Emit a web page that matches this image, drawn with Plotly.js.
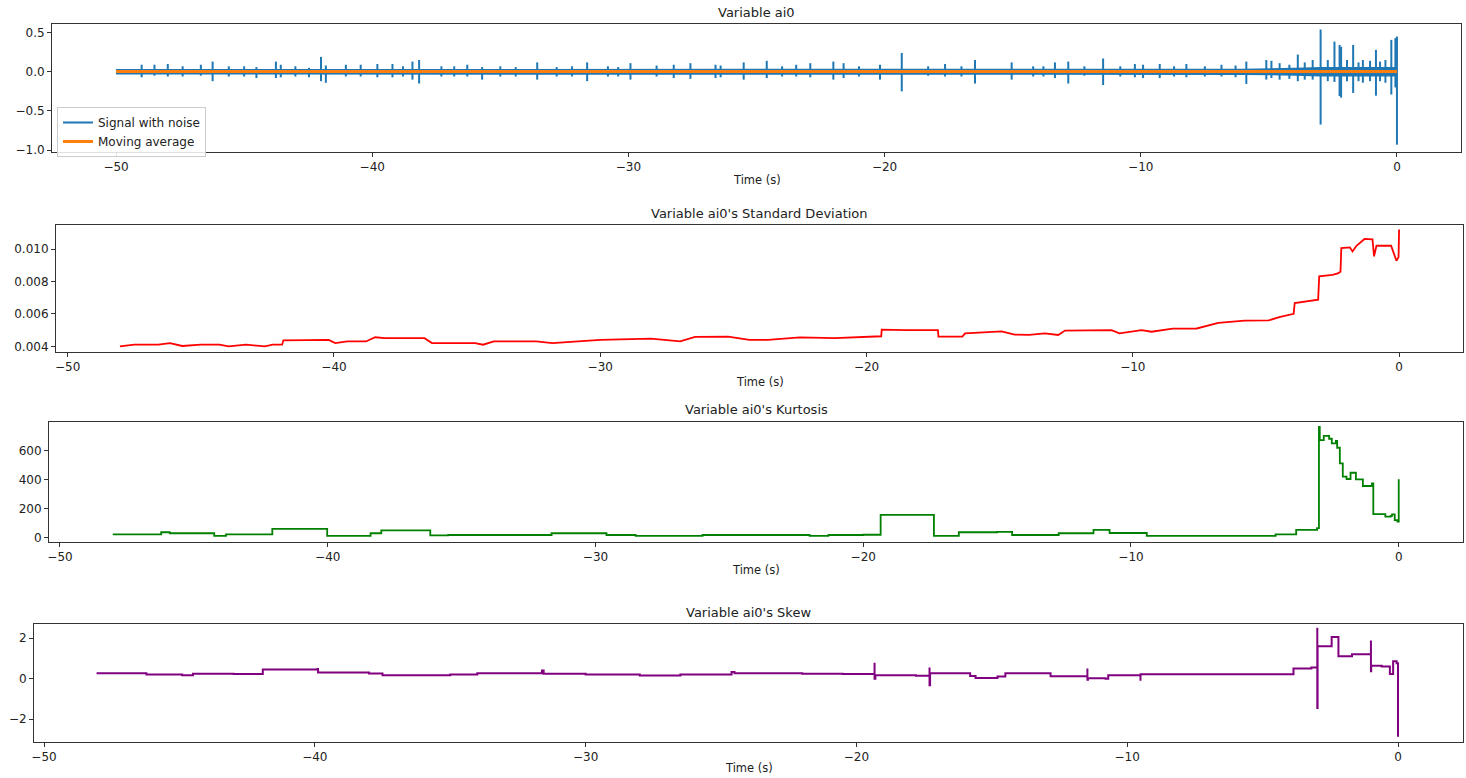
<!DOCTYPE html>
<html>
<head>
<meta charset="utf-8">
<script src="https://cdn.plot.ly/plotly-3.0.1.min.js"></script>
<style>html,body{margin:0;padding:0;background:#fff;}#chart{width:1466px;height:778px;}</style>
</head>
<body>
<div id="chart"></div>
<script>
// ---------- Panel 1: Variable ai0 (signal spikes) ----------
const spikeT  = [-49.0,-48.5,-47.98,-47.4,-46.69,-46.23,-45.6,-45.0,-44.52,-43.76,-43.57,-43.0,-42.47,-42.0,-41.81,-41.03,-40.45,-39.8,-39.21,-38.8,-38.43,-38.17,-37.3,-36.8,-36.29,-35.71,-35.0,-34.4,
                 -33.56,-32.8,-32.2,-31.61,-30.8,-30.4,-29.92,-28.9,-28.23,-27.58,-26.6,-26.4,-25.5,-24.6,-24.0,-23.45,-22.9,-22.0,-21.6,-21.0,-20.18,-19.33,-18.3,-17.64,-17.0,-16.47,
                 -15.04,-14.2,-13.8,-13.35,-12.83,-12.2,-11.47,-10.8,-10.23,-9.91,-9.26,-8.7,-8.22,-7.5,-6.85,-6.3,-5.88,-5.1,-4.9,-4.58,-4.2,-3.87,-3.6,-3.29,-2.98,-2.7,-2.44,-2.24,-2.18,-1.95,-1.71,-1.5,-1.33,-1.05,-0.82,-0.66,-0.45,-0.22,-0.06,0.0];
const spikeHi = [0.09,0.09,0.10,0.07,0.09,0.13,0.07,0.07,0.06,0.13,0.09,0.07,0.05,0.19,0.08,0.09,0.09,0.10,0.10,0.07,0.13,0.15,0.07,0.07,0.09,0.06,0.07,0.06,
                 0.12,0.06,0.07,0.12,0.07,0.06,0.11,0.08,0.09,0.11,0.09,0.08,0.12,0.14,0.07,0.09,0.11,0.13,0.11,0.07,0.09,0.24,0.07,0.10,0.07,0.15,
                 0.12,0.07,0.07,0.12,0.13,0.07,0.17,0.07,0.10,0.09,0.10,0.07,0.10,0.07,0.09,0.08,0.13,0.15,0.14,0.11,0.09,0.22,0.12,0.15,0.54,0.15,0.385,0.343,0.32,0.15,0.343,0.12,0.15,0.14,0.28,0.13,0.15,0.407,0.43,0.45];
const spikeLo = [-0.07,-0.05,-0.06,-0.06,-0.05,-0.12,-0.06,-0.06,-0.08,-0.08,-0.07,-0.06,-0.07,-0.12,-0.14,-0.06,-0.06,-0.07,-0.07,-0.06,-0.10,-0.15,-0.06,-0.06,-0.06,-0.10,-0.06,-0.06,
                 -0.10,-0.06,-0.06,-0.12,-0.06,-0.06,-0.10,-0.06,-0.08,-0.09,-0.08,-0.07,-0.10,-0.08,-0.06,-0.06,-0.07,-0.10,-0.08,-0.06,-0.10,-0.25,-0.05,-0.06,-0.06,-0.15,
                 -0.10,-0.06,-0.06,-0.08,-0.15,-0.05,-0.17,-0.06,-0.07,-0.08,-0.08,-0.06,-0.07,-0.06,-0.06,-0.07,-0.155,-0.10,-0.08,-0.10,-0.09,-0.12,-0.10,-0.10,-0.674,-0.12,-0.13,-0.31,-0.33,-0.12,-0.27,-0.12,-0.14,-0.12,-0.305,-0.12,-0.14,-0.29,-0.20,-0.93];
// noise floor envelope of the signal
const bandT  = [-50,-40,-30,-20,-10,-6,-4,-3,-2,-1,0];
const bandHi = [0.035,0.035,0.035,0.035,0.035,0.04,0.05,0.06,0.06,0.06,0.06];
const bandLo = [-0.035,-0.035,-0.035,-0.035,-0.035,-0.04,-0.05,-0.06,-0.06,-0.06,-0.06];
// moving average
const maT = [-50,-40,-30,-20,-10,-5,-3,-2,-1,0];
const maY = [0.004,0.004,0.004,0.004,0.004,0.004,0.005,0.005,0.005,0.004];

// ---------- Panel 2: Standard deviation ----------
const stdT = [-48.04,-47.5,-46.6,-46.16,-45.7,-45.0,-44.3,-43.96,-43.3,-42.6,-42.3,-41.95,-41.9,-41.0,-40.2,-39.95,-39.5,-38.8,-38.45,-38.1,-37.5,-36.6,-36.32,-35.5,-34.7,-34.4,-34.0,
              -33.7,-32.4,-31.8,-30.0,-28.1,-27.0,-26.44,-25.2,-24.4,-23.7,-22.5,-21.2,-19.45,-19.43,-18.5,-17.32,-17.3,-16.4,-16.3,-15.0,
              -14.93,-14.44,-13.9,-13.3,-12.8,-12.55,-11.4,-10.8,-10.5,-9.67,-9.3,-8.5,-7.6,-6.79,-5.8,-4.9,-4.5,-3.96,-3.92,-3.04,-3.0,-2.5,-2.3,-2.2,-2.17,
              -1.85,-1.75,-1.6,-1.3,-1.0,-0.94,-0.85,-0.3,-0.25,-0.1,-0.02,0.0];
const stdY = [0.0040,0.0041,0.0041,0.0042,0.00402,0.0041,0.0041,0.0040,0.0041,0.0040,0.0041,0.0041,0.00437,0.0044,0.0044,0.0042,0.0043,0.0043,0.00456,0.0045,0.0045,0.0045,0.0042,0.0042,0.0042,0.0041,0.0043,
              0.0043,0.0043,0.0042,0.0044,0.00447,0.0043,0.00458,0.0046,0.0044,0.0044,0.00455,0.0045,0.00462,0.00503,0.0050,0.0050,0.0046,0.0046,0.0048,0.0049,
              0.00492,0.00472,0.0047,0.0048,0.0047,0.00497,0.0050,0.0050,0.0048,0.0050,0.0049,0.00509,0.0051,0.00544,0.00558,0.0056,0.0058,0.0060,0.00667,0.00688,0.00831,0.0084,0.0085,0.0086,0.01006,
              0.0101,0.00985,0.0102,0.01062,0.0106,0.00955,0.0102,0.0102,0.0100,0.00928,0.0095,0.0112];

// ---------- Panel 3: Kurtosis ----------
const kurT = [-48.03,-46.22,-45.9,-44.24,-43.8,-42.07,-40.02,-39.6,-38.4,-38.0,-36.3,-36.17,-35.5,-33.6,-31.64,-29.59,-28.5,-26.0,-22.0,-21.3,-20.0,-19.35,-17.36,-16.43,
              -15.0,-14.44,-12.7,-11.4,-10.8,-9.41,-7.0,-4.6,-3.83,-3.05,-2.98,-2.95,-2.8,-2.6,-2.5,-2.35,-2.3,-2.2,-2.09,-1.95,-1.8,-1.6,-1.34,-1.0,-0.95,-0.5,-0.3,-0.25,-0.15,-0.05,0.0];
const kurY = [23,37,30,12,23,60,12,12,30,50,50,15,18,18,30,18,12,18,12,18,20,156,12,37,
              39,18,30,53,32,12,12,23,53,65,762,671,700,680,648,665,618,511,419,403,446,400,355,373,161,144,150,160,121,110,401];

// ---------- Panel 4: Skew ----------
const skwT = [-48.06,-46.22,-44.9,-44.5,-43.0,-41.92,-39.9,-39.88,-38.0,-37.5,-35.0,-34.0,-33.2,-31.61,-31.55,-30.0,-28.0,-26.5,-24.61,-24.5,-22.0,-20.5,-19.33,-19.33,-19.3,-17.8,-17.3,-17.3,-17.28,-15.8,-15.6,
              -14.79,-14.5,-12.83,-11.47,-11.47,-11.45,-10.8,-10.7,-9.51,-9.51,-9.49,-7.0,-5.5,-3.86,-3.2,-2.98,-2.98,-2.97,-2.45,-2.2,-1.7,-1.0,-1.0,-0.99,-0.6,-0.3,-0.18,-0.05,0.0,0.0];
const skwY = [0.26,0.20,0.17,0.24,0.23,0.45,0.48,0.30,0.25,0.17,0.20,0.26,0.26,0.40,0.24,0.20,0.15,0.20,0.33,0.26,0.24,0.23,0.78,0.0,0.17,0.14,0.55,-0.33,0.26,0.13,0.03,
              0.11,0.26,0.12,0.50,-0.05,0.02,0.0,0.17,-0.10,0.20,0.22,0.22,0.22,0.50,0.55,2.51,-1.45,1.60,2.05,1.10,1.20,1.88,0.36,0.64,0.60,0.23,0.86,0.76,0.76,-2.86];

// ---------- build ----------
const W = 1466, H = 778;
const sx = [], sy = [];
for (let i = 0; i < spikeT.length; i++) { sx.push(spikeT[i], spikeT[i], null); sy.push(spikeHi[i], spikeLo[i], null); }

const blue = '#1f77b4', orange = '#ff7f0e';
const traces = [
  {x: bandT, y: bandLo, mode: 'lines', line: {color: blue, width: 0}, showlegend: false, hoverinfo: 'skip', xaxis: 'x', yaxis: 'y'},
  {x: bandT, y: bandHi, mode: 'lines', line: {color: blue, width: 0}, fill: 'tonexty', fillcolor: blue, showlegend: false, hoverinfo: 'skip', xaxis: 'x', yaxis: 'y'},
  {x: sx, y: sy, mode: 'lines', line: {color: blue, width: 2}, name: 'Signal with noise', xaxis: 'x', yaxis: 'y', connectgaps: false},
  {x: maT, y: maY, mode: 'lines', line: {color: orange, width: 3}, name: 'Moving average', xaxis: 'x', yaxis: 'y'},
  {x: stdT, y: stdY, mode: 'lines', line: {color: '#ff0000', width: 1.8}, showlegend: false, xaxis: 'x2', yaxis: 'y2'},
  {x: kurT, y: kurY, mode: 'lines', line: {color: '#008000', width: 1.8, shape: 'hv'}, showlegend: false, xaxis: 'x3', yaxis: 'y3'},
  {x: skwT, y: skwY, mode: 'lines', line: {color: '#800080', width: 2, shape: 'hv'}, showlegend: false, xaxis: 'x4', yaxis: 'y4'}
];

const font = {family: 'DejaVu Sans, sans-serif', size: 12, color: '#222'};
const common = {showline: true, mirror: true, linecolor: '#333', linewidth: 1,
  ticks: 'outside', ticklen: 4, tickwidth: 1, tickcolor: '#333', showgrid: false, zeroline: false, tickfont: font, fixedrange: true};
function ax(l, r, range, anchor, extra) {
  return Object.assign({domain: [l / W, r / W], range: range, anchor: anchor}, common, extra || {});
}
function ay(t, b, range, anchor, extra) {
  return Object.assign({domain: [1 - b / H, 1 - t / H], range: range, anchor: anchor}, common, extra || {});
}
const panels = [
  {l: 52, r: 1461, t: 24, b: 152, title: 'Variable ai0', tt: 12, xl: 180},
  {l: 56, r: 1463, t: 225, b: 352, title: "Variable ai0's Standard Deviation", tt: 213, xl: 382},
  {l: 49, r: 1463, t: 422, b: 542, title: "Variable ai0's Kurtosis", tt: 409, xl: 570},
  {l: 34, r: 1463, t: 624, b: 742, title: "Variable ai0's Skew", tt: 612, xl: 768}
];
const ann = [];
panels.forEach(p => {
  const cx = (p.l + p.r) / 2 / W;
  ann.push({text: p.title, x: cx, y: 1 - p.tt / H, xref: 'paper', yref: 'paper', showarrow: false, xanchor: 'center', yanchor: 'middle', font: {family: 'DejaVu Sans, sans-serif', size: 13, color: '#222'}});
  ann.push({text: 'Time (s)', x: cx, y: 1 - p.xl / H, xref: 'paper', yref: 'paper', showarrow: false, xanchor: 'center', yanchor: 'middle', font: {family: 'DejaVu Sans, sans-serif', size: 11.5, color: '#222'}});
});

const layout = {
  width: W, height: H, margin: {l: 0, r: 0, t: 0, b: 0}, paper_bgcolor: '#fff', plot_bgcolor: '#fff',
  font: font,
  xaxis:  ax(52, 1461, [-52.5, 2.5], 'y', {dtick: 10, tick0: 0}),
  yaxis:  ay(24, 152, [-1.024, 0.61], 'x', {dtick: 0.5, tick0: 0, tickformat: '.1f'}),
  xaxis2: ax(56, 1463, [-50.44, 2.4], 'y2', {dtick: 10, tick0: 0}),
  yaxis2: ay(225, 352, [0.00365, 0.01148], 'x2', {dtick: 0.002, tick0: 0, tickformat: '.3f'}),
  xaxis3: ax(49, 1463, [-50.41, 2.4], 'y3', {dtick: 10, tick0: 0}),
  yaxis3: ay(422, 542, [-30, 795], 'x3', {dtick: 200, tick0: 0}),
  xaxis4: ax(34, 1463, [-50.37, 2.4], 'y4', {dtick: 10, tick0: 0}),
  yaxis4: ay(624, 742, [-3.12, 2.69], 'x4', {dtick: 2, tick0: 0}),
  annotations: ann,
  showlegend: true,
  legend: {x: 57 / W, y: 1 - 107 / H, xanchor: 'left', yanchor: 'top', bgcolor: 'rgba(255,255,255,0.85)', bordercolor: '#ccc', borderwidth: 1,
    traceorder: 'normal', font: {family: 'DejaVu Sans, sans-serif', size: 12, color: '#222'}, tracegroupgap: 0, itemwidth: 30}
};
Plotly.newPlot('chart', traces, layout, {displayModeBar: false, staticPlot: true});
</script>
</body>
</html>
